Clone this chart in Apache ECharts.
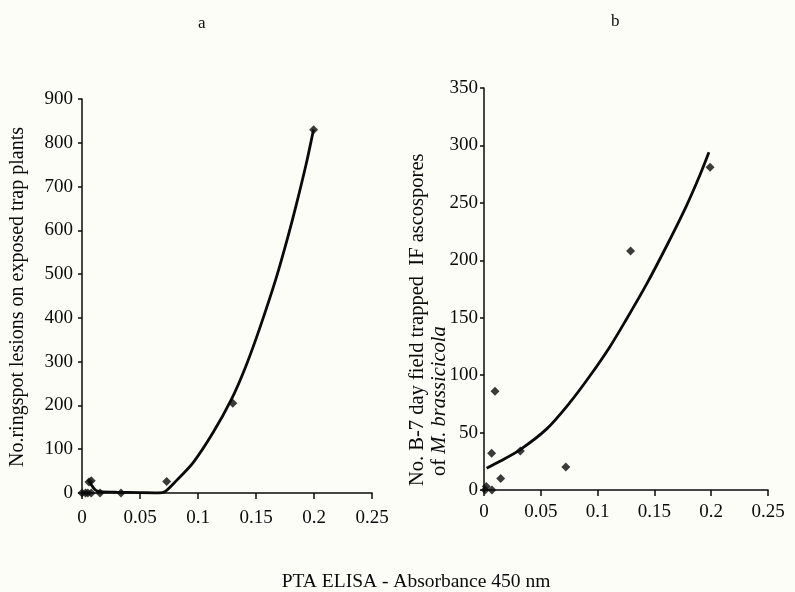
<!DOCTYPE html>
<html>
<head>
<meta charset="utf-8">
<script src="https://cdn.jsdelivr.net/npm/echarts@6/dist/echarts.min.js"></script>
<style>
html,body{margin:0;padding:0;background:#fdfdf8;}
#c{width:795px;height:592px;}
</style>
</head>
<body>
<div id="c"></div>
<script>
// Panel a: observed points [absorbance, lesions]
const aPoints = [
  [0.000, 0], [0.003, 0], [0.005, 0], [0.008, 0], [0.006, 25], [0.008, 28],
  [0.0155, 0], [0.0336, 0], [0.073, 26], [0.130, 205], [0.1997, 830]
];
// Panel a: fitted curve
const aCurve = [
  [0.006, 27], [0.009, 15], [0.012, 6], [0.016, 3], [0.03, 2], [0.05, 1],
  [0.066, 0], [0.0715, 3], [0.082, 30], [0.096, 70], [0.113, 138],
  [0.129, 215], [0.141, 288], [0.153, 375], [0.1675, 492], [0.1775, 585],
  [0.1847, 658], [0.1933, 752], [0.1996, 830]
];
// Panel b: observed points [absorbance, ascospores]
const bPoints = [
  [0.001, 0], [0.002, 3], [0.007, 0], [0.0067, 32], [0.0097, 86],
  [0.0147, 10], [0.032, 34], [0.072, 20], [0.129, 208], [0.199, 281]
];
// Panel b: fitted curve
const bCurve = [
  [0.0023, 19], [0.014, 25], [0.0316, 35], [0.055, 53], [0.0755, 76],
  [0.093, 99], [0.111, 125], [0.125, 148], [0.143, 179], [0.1605, 212],
  [0.178, 247], [0.19, 274], [0.198, 294]
];
const xTicks = [0, 0.05, 0.1, 0.15, 0.2, 0.25];
const aYTicks = [0, 100, 200, 300, 400, 500, 600, 700, 800, 900];
const bYTicks = [0, 50, 100, 150, 200, 250, 300, 350];

const FONT = 'Liberation Serif';
const INK = '#0a0a0a';
const chart = echarts.init(document.getElementById('c'));

function xAxis(idx, margin) {
  return {
    type: 'value', gridIndex: idx, min: 0, max: 0.25, interval: 0.05,
    axisLine: {show: true, onZero: false, lineStyle: {color: INK, width: 1.5}},
    axisTick: {show: true, inside: false, length: 6, lineStyle: {color: INK, width: 1.5}},
    axisLabel: {color: INK, fontFamily: FONT, fontSize: 19, margin: margin,
      formatter: v => String(+v.toFixed(2))},
    splitLine: {show: false}
  };
}
function yAxis(idx, max, interval, margin) {
  return {
    type: 'value', gridIndex: idx, min: 0, max: max, interval: interval,
    axisLine: {show: true, onZero: false, lineStyle: {color: INK, width: 1.5}},
    axisTick: {show: true, length: 4, lineStyle: {color: INK, width: 1.5}},
    axisLabel: {color: INK, fontFamily: FONT, fontSize: 19, margin: margin},
    splitLine: {show: false}
  };
}

chart.setOption({
  backgroundColor: '#fdfdf8',
  animation: false,
  title: [
    {text: 'a', left: 193, top: 10, textStyle: {fontFamily: FONT, fontSize: 17, fontWeight: 'normal', color: INK}},
    {text: 'b', left: 606, top: 8, textStyle: {fontFamily: FONT, fontSize: 17, fontWeight: 'normal', color: INK}}
  ],
  grid: [
    {left: 82, top: 99, width: 290, height: 394},
    {left: 484, top: 88, width: 284, height: 402}
  ],
  xAxis: [xAxis(0, 16), xAxis(1, 13)],
  yAxis: [yAxis(0, 900, 100, 9), yAxis(1, 350, 50, 6)],
  graphic: [
    {type: 'text', x: 18, y: 297, rotation: Math.PI / 2,
      style: {text: 'No.ringspot lesions on exposed trap plants', font: '20px "Liberation Serif"', fill: INK, align: 'center', verticalAlign: 'middle'}},
    {type: 'text', x: 418, y: 486, rotation: Math.PI / 2,
      style: {text: 'No. B-7 day field trapped  IF ascospores', font: '20.5px "Liberation Serif"', fill: INK, align: 'left', verticalAlign: 'middle'}},
    {type: 'text', x: 440, y: 476, rotation: Math.PI / 2,
      style: {text: '{n|of }{i|M. brassicicola}', fill: INK, align: 'left', verticalAlign: 'middle',
        rich: {n: {fontFamily: FONT, fontSize: 20.5, fill: INK}, i: {fontFamily: FONT, fontSize: 20.5, fontStyle: 'italic', fill: INK}}}},
    {type: 'text', x: 416, y: 582,
      style: {text: 'PTA ELISA - Absorbance 450 nm', font: '19.5px "Liberation Serif"', fill: INK, align: 'center', verticalAlign: 'middle'}}
  ],
  series: [
    {type: 'line', xAxisIndex: 0, yAxisIndex: 0, data: aCurve, smooth: 0.3, showSymbol: false,
      lineStyle: {color: INK, width: 2.8}, z: 2},
    {type: 'scatter', xAxisIndex: 0, yAxisIndex: 0, data: aPoints, symbol: 'diamond', symbolSize: 9,
      itemStyle: {color: INK}, z: 3},
    {type: 'line', xAxisIndex: 1, yAxisIndex: 1, data: bCurve, smooth: 0.3, showSymbol: false,
      lineStyle: {color: INK, width: 2.8}, z: 2},
    {type: 'scatter', xAxisIndex: 1, yAxisIndex: 1, data: bPoints, symbol: 'diamond', symbolSize: 9,
      itemStyle: {color: INK}, z: 3}
  ]
});
</script>
</body>
</html>
